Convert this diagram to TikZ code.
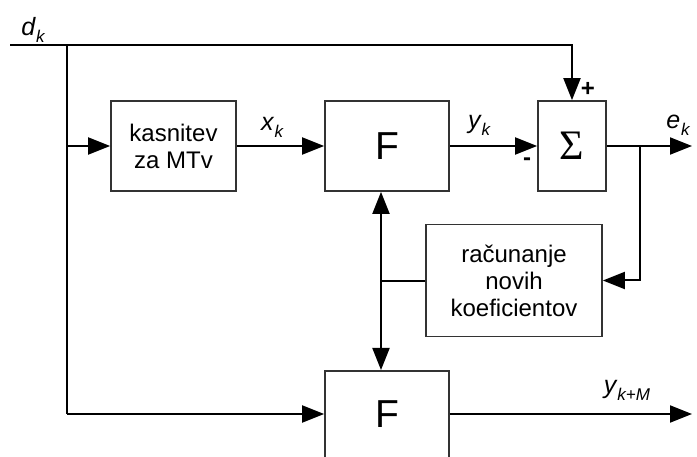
\documentclass[tikz,border=0pt]{standalone}
\usepackage{fontspec}
\setmainfont{Liberation Sans}
\newfontfamily\symserif{Liberation Serif}
\usetikzlibrary{arrows.meta,calc}
\newcommand\sublbl[2]{{\itshape #1}\kern1pt\raisebox{-0.28em}{\fontsize{17}{17}\selectfont\itshape #2}}
\begin{document}
\begin{tikzpicture}[x=1pt,y=-1pt,
  blk/.style={draw=black!80,line width=1.8pt,rectangle,inner sep=0pt,align=center,font=\fontsize{24}{27}\selectfont},
  wire/.style={line width=2pt,black},
  arr/.style={wire,-{Triangle[length=22pt,width=17pt]}},
  lbl/.style={inner sep=0pt,font=\fontsize{25}{25}\selectfont}]
\clip (0,0) rectangle (697,457);
% blocks
\node[blk,minimum width=125pt,minimum height=90pt] (delay) at (173.5,146) {kasnitev\\za MTv};
\node[blk,minimum width=124pt,minimum height=90pt,font=\fontsize{39}{39}\selectfont] (F1) at (387,146) {F};
\node[blk,minimum width=68pt,minimum height=90pt,font=\fontsize{42}{42}\selectfont\symserif] (sum) at (572,146) {Σ};
\node[blk,minimum width=176pt,minimum height=112pt] (calc) at (514,280.5) {računanje\\novih\\koeficientov};
\node[blk,minimum width=124pt,minimum height=100pt,anchor=north] (F2) at (387,370) {};
\node[inner sep=0pt,font=\fontsize{39}{39}\selectfont] (F2t) at (387,414) {F};
% coordinates
\coordinate (din) at (10,45);
\coordinate (jl) at (67,45);
\coordinate (jlb) at (67,414);
\coordinate (jr) at (640,146);
\coordinate (eout) at (692,146);
\coordinate (yout) at (692,414);
\coordinate (jc) at (381,281);
% connectors
\draw[wire] (din) -- (jl);
\draw[arr] (jl) -- (sum.north |- jl) -- (sum.north);
\draw[wire] (jl) -- (jlb);
\draw[arr] (jl |- delay.west) -- (delay.west);
\draw[arr] (jlb) -- (F2.west |- jlb);
\draw[arr] (delay.east) -- (F1.west);
\draw[arr] (F1.east) -- (sum.west);
\draw[arr] (sum.east) -- (eout);
\draw[arr] (jr) -- (jr |- calc.east) -- (calc.east);
\draw[wire] (calc.west |- jc) -- (jc);
\draw[arr] (jc) -- (jc |- F1.south);
\draw[arr] (jc) -- (jc |- F2.north);
\draw[arr] (F2.east |- yout) -- (yout);
% labels
\node[lbl] (ldk) at (33,30) {\sublbl{d}{k}};
\node[lbl] (lxk) at (272,127) {\sublbl{x}{k}};
\node[lbl] (lyk) at (479,125) {\sublbl{y}{k}};
\node[lbl] (lek) at (678,125) {\sublbl{e}{k}};
\node[lbl] (lykm) at (627,390) {\sublbl{y}{k+M}};
\node[lbl,font=\fontsize{24}{24}\selectfont\bfseries] (plus) at (588,89) {+};
\node[lbl,font=\fontsize{24}{24}\selectfont\bfseries] (minus) at (527,162) {-};
\end{tikzpicture}
\end{document}
